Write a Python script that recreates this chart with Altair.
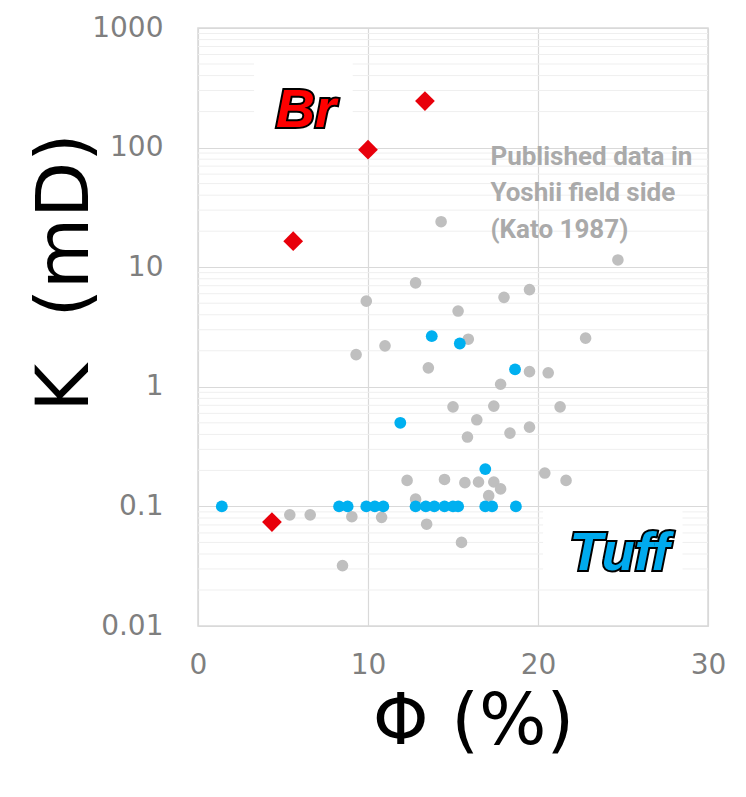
import altair as alt
import pandas as pd

# ---- data ----
gray_phi = [14.3, 12.8, 9.9, 15.3, 18.0, 19.5, 24.7, 22.8, 19.5, 20.6, 17.8, 17.4, 21.3,
            18.35, 19.5, 20.4, 21.65, 16.4, 9.3, 11.0, 15.9, 13.55, 15.0, 15.85, 12.3,
            14.5, 15.7, 16.5, 17.4, 17.8, 17.1, 12.8, 5.4, 6.6, 9.05, 10.8, 13.45, 15.5, 8.5]
gray_k = [24, 7.4, 5.2, 4.3, 5.6, 6.5, 11.5, 2.55, 1.34, 1.31, 1.05, 0.69, 0.68,
          0.41, 0.46, 0.19, 0.165, 0.53, 1.86, 2.2, 2.5, 1.44, 0.68, 0.38, 0.165,
          0.168, 0.158, 0.16, 0.16, 0.14, 0.123, 0.115, 0.085, 0.085, 0.082, 0.081, 0.071, 0.05, 0.032]

blue_phi = [1.4, 8.3, 8.8, 9.9, 10.4, 10.9, 12.8, 13.4, 13.9, 14.5, 15.0, 15.3, 16.9, 17.3, 18.7,
            16.9, 11.9, 18.65, 13.75, 15.4]
blue_k = [0.1, 0.1, 0.1, 0.1, 0.1, 0.1, 0.1, 0.1, 0.1, 0.1, 0.1, 0.1, 0.1, 0.1, 0.1,
          0.205, 0.5, 1.4, 2.65, 2.3]

red_phi = [13.35, 10.0, 5.6, 4.35]
red_k = [245, 96, 16.5, 0.074]

x_ticks = [0, 10, 20, 30]
y_ticks = [0.01, 0.1, 1, 10, 100, 1000]
y_minor = [m * d for d in [0.01, 0.1, 1, 10, 100] for m in range(2, 10)]

note_lines = ["Published data in", "Yoshii field side", "\u00a0(Kato 1987)"]
note_k = [72, 35.5, 17.6]
note_phi = 17.2

# ---- scales ----
xs = alt.Scale(domain=[0, 30], nice=False, zero=False)
ys = alt.Scale(type="log", domain=[0.01, 1000], nice=False)

FONT = "DejaVu Sans"

xaxis = alt.Axis(values=x_ticks, grid=True, gridColor="#d9d9d9", gridWidth=1.2,
                 domain=False, ticks=False, labelFont=FONT, labelFontSize=28,
                 labelColor="#7f7f7f", labelPadding=25, labelFlush=False, labelOverlap=False,
                 title="Φ (%)",
                 titleFont=FONT, titleFontSize=71, titleFontWeight="normal",
                 titleColor="#000000", titleX=275, titleY=96, titleBaseline="middle",
                 titleAlign="center")
yaxis = alt.Axis(values=y_ticks, grid=True, gridColor="#d9d9d9", gridWidth=1.2,
                 domain=False, ticks=False, labelFont=FONT, labelFontSize=28,
                 labelColor="#7f7f7f", labelPadding=35, labelFlush=False, labelOverlap=False,
                 labelExpr="datum.value >= 1 ? format(datum.value, 'd') : (datum.value >= 0.1 ? '0.1' : '0.01')",
                 title="K\u00a0\u00a0(mD)", titleFont=FONT, titleFontSize=73,
                 titleFontWeight="normal", titleColor="#000000", titleX=-133, titleY=244,
                 titleBaseline="middle", titleAlign="center", titleAngle=270)

minor = alt.Chart(pd.DataFrame({"k": y_minor})).mark_rule(
    color="#efefef", strokeWidth=1
).encode(y=alt.Y("k:Q", scale=ys, axis=yaxis))

base_x = alt.X("phi:Q", scale=xs, axis=xaxis)

boxes = alt.Chart(pd.DataFrame({
    "x1": [3.3, 20.3], "x2": [9.1, 28.5], "y1": [106, 0.0205], "y2": [510, 0.097]
})).mark_rect(color="white").encode(
    x=alt.X("x1:Q", scale=xs, axis=xaxis), x2="x2:Q",
    y=alt.Y("y1:Q", scale=ys, axis=yaxis), y2="y2:Q")

gray = alt.Chart(pd.DataFrame({"phi": gray_phi, "k": gray_k})).mark_point(
    shape="circle", filled=True, size=135, color="#bfbfbf", opacity=1
).encode(x=base_x, y=alt.Y("k:Q", scale=ys, axis=yaxis))

blue = alt.Chart(pd.DataFrame({"phi": blue_phi, "k": blue_k})).mark_point(
    shape="circle", filled=True, size=140, color="#00b0f0", opacity=1
).encode(x=base_x, y=alt.Y("k:Q", scale=ys, axis=yaxis))

red = alt.Chart(pd.DataFrame({"phi": red_phi, "k": red_k})).mark_point(
    shape="diamond", filled=True, size=390, color="#e8000b", opacity=1
).encode(x=base_x, y=alt.Y("k:Q", scale=ys, axis=yaxis))

labels_df = pd.DataFrame({"phi": [6.35, 24.8], "k": [150, 0.0293], "t": ["Br", "Tuff"],
                          "c": ["#ff0000", "#00aaee"]})
lab_stroke = alt.Chart(labels_df).mark_text(
    font="Liberation Sans", fontSize=54, fontStyle="italic", fontWeight="bold",
    stroke="black", strokeWidth=4, baseline="alphabetic", align="center"
).encode(x=base_x, y=alt.Y("k:Q", scale=ys, axis=yaxis), text="t:N")
lab_fill = alt.Chart(labels_df).mark_text(
    font="Liberation Sans", fontSize=54, fontStyle="italic", fontWeight="bold",
    baseline="alphabetic", align="center"
).encode(x=base_x, y=alt.Y("k:Q", scale=ys, axis=yaxis), text="t:N",
         color=alt.Color("c:N", scale=None))

note = alt.Chart(pd.DataFrame({"phi": [note_phi] * 3, "k": note_k, "t": note_lines})).mark_text(
    font="Roboto", fontSize=26, fontWeight="bold", color="#aaaaaa",
    align="left", baseline="alphabetic"
).encode(x=base_x, y=alt.Y("k:Q", scale=ys, axis=yaxis), text="t:N")

chart = alt.layer(minor, boxes, gray, blue, red, lab_stroke, lab_fill, note).properties(
    width=510, height=598,
    autosize=alt.AutoSizeParams(type="none"),
    padding={"left": 190, "top": 20, "right": 30, "bottom": 163},
    background="white",
).configure_view(stroke="#d9d9d9", strokeWidth=1.5)

chart.save("out.html", embed_options={"renderer": "svg", "actions": False})
